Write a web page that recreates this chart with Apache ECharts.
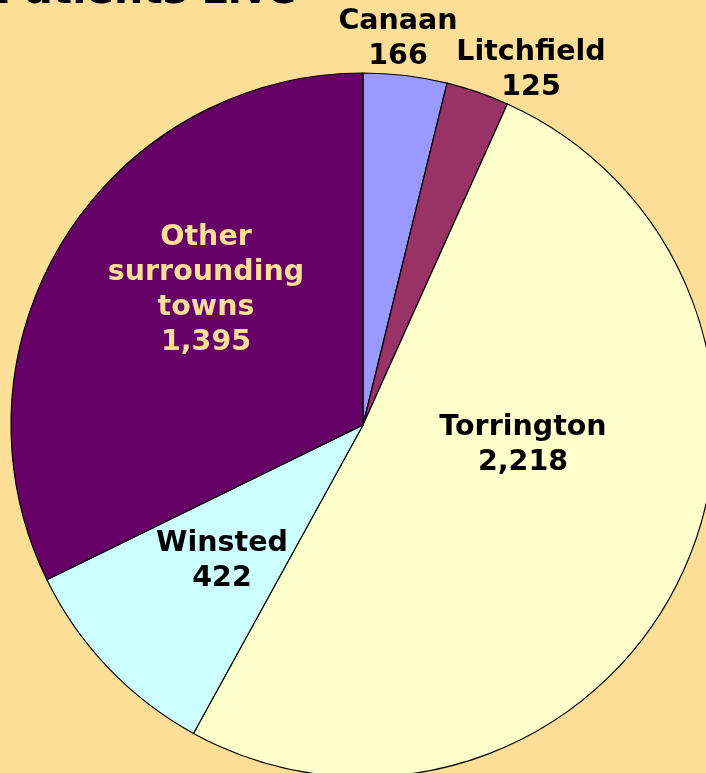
<!DOCTYPE html>
<html>
<head>
<meta charset="utf-8">
<script src="https://cdn.jsdelivr.net/npm/echarts@6/dist/echarts.min.js"></script>
<style>
html,body{margin:0;padding:0;background:#FDDE97;}
#c{width:706px;height:773px;}
</style>
</head>
<body>
<div id="c"></div>
<script>
const titleText = 'Patients Live';
const towns = ['Canaan', 'Litchfield', 'Torrington', 'Winsted', 'Other surrounding towns'];
const patients = [166, 125, 2218, 422, 1395];
const sliceColors = ['#9999FF', '#993366', '#FFFFCC', '#CCFFFF', '#660066'];
const labelColors = ['#000000', '#000000', '#000000', '#000000', '#FDDE97'];
const labelPos = [[398, 39], [531, 70], [523, 445], [222, 561], [206, 290]];

const chart = echarts.init(document.getElementById('c'), null, {renderer: 'canvas'});
const fmt = v => v.toLocaleString('en-US');
chart.setOption({
  backgroundColor: '#FDDE97',
  animation: false,
  graphic: [{
    type: 'text',
    x: -4,
    y: -28,
    z: 100,
    style: {
      text: titleText,
      fontSize: 41,
      fontWeight: 'bold',
      fontFamily: 'DejaVu Sans',
      fill: '#000'
    }
  }],
  series: [{
    type: 'pie',
    center: [363, 425],
    radius: 352,
    startAngle: 90,
    clockwise: true,
    data: towns.map((n, i) => ({
      name: n,
      value: patients[i],
      itemStyle: {color: sliceColors[i]},
      label: {color: labelColors[i]}
    })),
    itemStyle: {borderColor: '#000', borderWidth: 1.2},
    label: {
      show: true,
      position: 'inside',
      formatter: p => p.name.split(' ').join('\n') + '\n' + fmt(p.value),
      fontFamily: 'DejaVu Sans',
      fontWeight: 'bold',
      fontSize: 28.5,
      lineHeight: 35,
      align: 'center'
    },
    labelLine: {show: false},
    labelLayout: p => ({
      x: labelPos[p.dataIndex][0],
      y: labelPos[p.dataIndex][1],
      align: 'center',
      verticalAlign: 'middle'
    }),
    emphasis: {disabled: true}
  }]
});
</script>
</body>
</html>
